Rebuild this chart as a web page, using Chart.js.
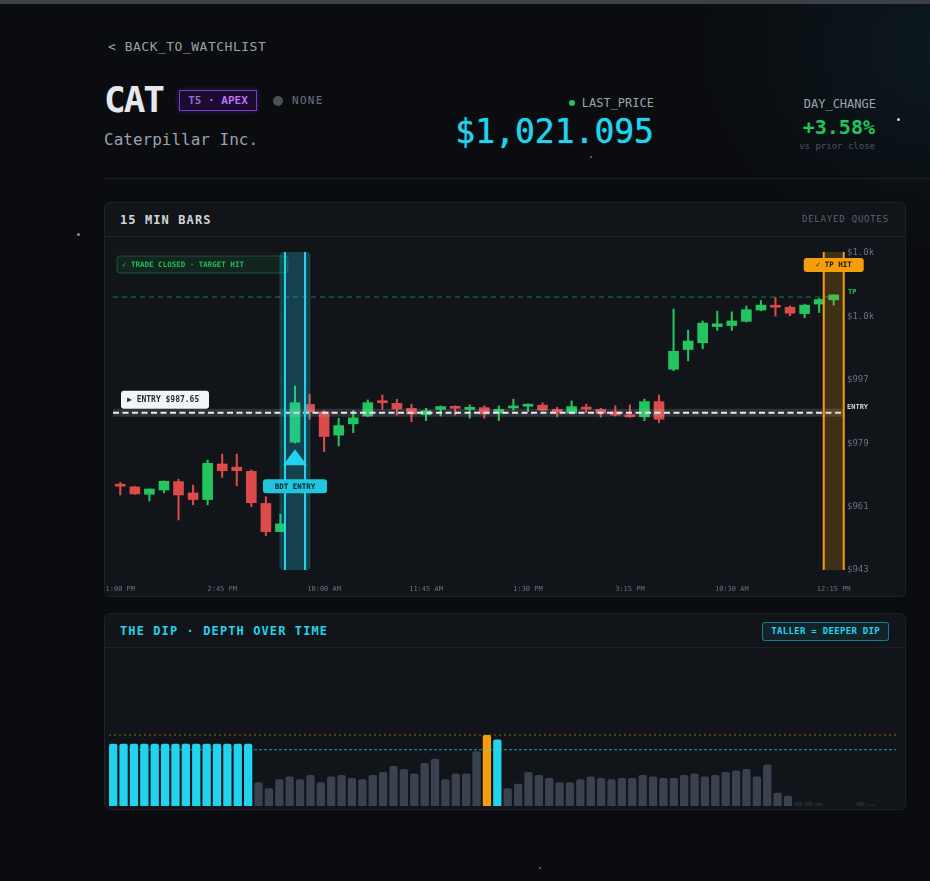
<!DOCTYPE html>
<html>
<head>
<meta charset="utf-8">
<script src="https://cdn.jsdelivr.net/npm/chart.js@4.4.1/dist/chart.umd.min.js"></script>
<style>
  html, body { margin: 0; padding: 0; }
  body {
    width: 930px; height: 881px; position: relative; overflow: hidden;
    background: radial-gradient(ellipse 240px 200px at 940px 50px, rgba(20, 90, 100, 0.16), rgba(0,0,0,0)), #0a0c10;
    font-family: "DejaVu Sans Mono", monospace;
    color: #9ca3af;
  }
  .topbar { position: absolute; left: 0; top: 0; width: 930px; height: 4px; background: #3d4046; }
  .abs { position: absolute; white-space: nowrap; }
  .back { left: 108px; top: 39px; font-size: 13px; line-height: 16px; letter-spacing: 0.5px; color: #9aa1ab; }
  .ticker { left: 104px; top: 82px; font-size: 36px; line-height: 36px; font-weight: bold; letter-spacing: -2px; color: #e6e8eb; }
  .tier {
    left: 179px; top: 90px; width: 78px; height: 21px; box-sizing: border-box;
    border: 1px solid #7c3ad0; background: #1c0b30; box-shadow: 0 0 6px rgba(124, 58, 208, 0.35);
    font-size: 11px; line-height: 19px; text-align: center; color: #b974f5; font-weight: bold;
  }
  .tier .t { color: #8e70c8; }
  .ndot { left: 273px; top: 96px; width: 10px; height: 10px; border-radius: 50%; background: #4b5058; }
  .none { left: 292px; top: 93px; font-size: 11px; line-height: 16px; letter-spacing: 1.3px; color: #6b7280; }
  .name { left: 104px; top: 131px; font-size: 16px; line-height: 18px; color: #9aa1ab; }
  .lp { right: 276px; top: 95px; font-size: 12px; line-height: 16px; color: #9ca3af; }
  .lp i { display: inline-block; width: 6px; height: 6px; border-radius: 50%; background: #22c55e; margin-right: 7px; vertical-align: 1px; }
  .price { right: 276px; top: 115px; font-size: 33px; line-height: 34px; color: #22d3ee; text-shadow: 0 0 1px #22d3ee; }
  .dc { right: 54px; top: 96px; font-size: 12px; line-height: 16px; color: #9ca3af; }
  .chg { right: 55px; top: 116px; font-size: 20px; line-height: 22px; font-weight: bold; color: #22c55e; }
  .vs { right: 55px; top: 140px; font-size: 9px; line-height: 12px; color: #4b5563; }
  .sep { left: 104px; top: 178px; width: 826px; height: 1px; background: #1b1f26; }
  .dot { position: absolute; border-radius: 50%; }

  .card {
    position: absolute; left: 104px; width: 802px; box-sizing: border-box;
    border: 1px solid #1d2229; border-radius: 6px; background: #111418; overflow: hidden;
  }
  .card .head { position: absolute; left: 0; top: 0; width: 800px; height: 33px; border-bottom: 1px solid #1d2229; }
  .title { position: absolute; left: 15px; top: 9px; font-size: 12px; line-height: 16px; font-weight: bold; letter-spacing: 1.1px; color: #d1d5db; }
  .note { position: absolute; right: 16px; top: 10px; font-size: 9px; line-height: 12px; letter-spacing: 0.8px; color: #5b6370; }
  .pill {
    position: absolute; right: 16px; top: 8px; height: 19px; box-sizing: border-box; padding: 0 8px;
    border: 1px solid rgba(34, 211, 238, 0.5); border-radius: 3px; background: rgba(34, 211, 238, 0.08);
    font-size: 9px; line-height: 17px; font-weight: bold; letter-spacing: 0.3px; color: #22d3ee;
  }
  canvas { position: absolute; left: 0; }
</style>
</head>
<body>
<div class="topbar"></div>
<div class="abs back">&lt; BACK_TO_WATCHLIST</div>
<div class="abs ticker">CAT</div>
<div class="abs tier"><span class="t">T5</span> · APEX</div>
<div class="abs ndot"></div>
<div class="abs none">NONE</div>
<div class="abs name">Caterpillar Inc.</div>
<div class="abs lp"><i></i>LAST_PRICE</div>
<div class="abs price">$1,021.095</div>
<div class="abs dc">DAY_CHANGE</div>
<div class="abs chg">+3.58%</div>
<div class="abs vs">vs prior close</div>
<div class="abs sep"></div>
<div class="dot" style="left:897px;top:118px;width:3px;height:3px;background:#cfd3d8"></div>
<div class="dot" style="left:77px;top:233px;width:3px;height:3px;background:#8a8f96"></div>
<div class="dot" style="left:590px;top:156px;width:2px;height:2px;background:#6b7280"></div>
<div class="dot" style="left:539px;top:867px;width:2px;height:2px;background:#6b7280"></div>

<div class="card" style="top:202px;height:395px">
  <div class="head">
    <div class="title">15 MIN BARS</div>
    <div class="note">DELAYED QUOTES</div>
  </div>
  <canvas id="candles" width="800" height="359" style="top:34px"></canvas>
</div>

<div class="card" style="top:613px;height:197px">
  <div class="head">
    <div class="title" style="color:#22d3ee">THE DIP · DEPTH OVER TIME</div>
    <div class="pill">TALLER = DEEPER DIP</div>
  </div>
  <canvas id="dip" width="800" height="159" style="top:36px"></canvas>
</div>

<script>
// 15 minute bars, two and a half sessions
const times = [
  "1:00 PM", "1:15 PM", "1:30 PM", "1:45 PM", "2:00 PM", "2:15 PM", "2:30 PM", "2:45 PM",
  "3:00 PM", "3:15 PM", "3:30 PM", "3:45 PM",
  "9:30 AM", "9:45 AM", "10:00 AM", "10:15 AM", "10:30 AM", "10:45 AM", "11:00 AM", "11:15 AM",
  "11:30 AM", "11:45 AM", "12:00 PM", "12:15 PM", "12:30 PM", "12:45 PM", "1:00 PM", "1:15 PM",
  "1:30 PM", "1:45 PM", "2:00 PM", "2:15 PM", "2:30 PM", "2:45 PM", "3:00 PM", "3:15 PM",
  "3:30 PM", "3:45 PM",
  "9:30 AM", "9:45 AM", "10:00 AM", "10:15 AM", "10:30 AM", "10:45 AM", "11:00 AM", "11:15 AM",
  "11:30 AM", "11:45 AM", "12:00 PM", "12:15 PM"
];
const opens = [
  967.0, 966.6, 964.5, 965.7, 968.1, 964.9, 963.0, 973.1, 972.2, 971.0,
  961.9, 953.9, 979.3, 990.0, 987.9, 981.3, 984.5, 986.7, 990.7, 990.3,
  988.9, 987.1, 988.6, 989.2, 988.6, 989.1, 987.5, 989.0, 989.5, 989.8,
  988.6, 987.5, 989.0, 988.6, 987.9, 987.0, 986.5, 990.8, 1000.0, 1005.6,
  1007.5, 1012.1, 1012.4, 1013.6, 1016.8, 1018.0, 1017.6, 1015.8, 1018.5, 1019.7
];
const highs = [
  967.9, 966.7, 966.0, 968.3, 968.8, 967.1, 974.2, 975.9, 975.9, 971.4,
  963.8, 958.9, 995.2, 992.9, 988.2, 986.1, 988.3, 991.3, 992.7, 991.5,
  990.1, 988.9, 989.6, 989.6, 989.9, 989.6, 989.6, 991.5, 990.2, 990.5,
  989.2, 991.0, 990.1, 988.9, 989.6, 989.9, 991.5, 992.7, 1017.1, 1011.1,
  1013.7, 1016.5, 1016.3, 1018.0, 1019.5, 1020.4, 1018.0, 1018.5, 1020.1, 1021.1
];
const lows = [
  964.3, 964.5, 962.6, 964.9, 957.2, 961.5, 961.5, 969.3, 966.9, 961.0,
  952.7, 953.9, 979.0, 985.8, 976.6, 978.2, 982.0, 986.5, 988.6, 987.0,
  985.1, 985.4, 986.7, 987.0, 986.1, 986.1, 985.4, 988.4, 988.0, 988.2,
  986.5, 987.3, 987.7, 986.4, 986.7, 986.3, 985.4, 984.8, 999.6, 1002.4,
  1005.8, 1011.0, 1011.0, 1013.4, 1016.6, 1015.1, 1015.2, 1014.6, 1016.1, 1018.2
];
const closes = [
  966.8, 964.6, 966.0, 968.2, 964.3, 963.0, 973.3, 971.2, 971.2, 962.1,
  953.9, 956.1, 990.5, 987.9, 980.9, 984.0, 986.2, 990.5, 990.5, 988.7,
  987.3, 988.2, 989.4, 988.9, 989.2, 987.3, 988.6, 989.3, 989.8, 988.4,
  987.9, 989.4, 988.7, 987.5, 987.0, 986.5, 990.8, 985.8, 1005.1, 1008.0,
  1013.1, 1012.9, 1013.7, 1016.9, 1018.2, 1017.6, 1015.9, 1018.2, 1019.8, 1021.1
];

// trade
const entryIndex = 12;
const exitIndex = 49;
const entryPrice = 987.65;
const targetPrice = 1020.5;

// price axis
const priceMin = 943;
const priceMax = 1033;
const priceStep = 18;

// dip depth per bar
const dipDepth = [
  0.84, 0.84, 0.84, 0.84, 0.84, 0.84, 0.84, 0.84, 0.84, 0.84, 0.84, 0.84, 0.84, 0.84,
  0.32, 0.24, 0.36, 0.40, 0.36, 0.42, 0.32, 0.40, 0.42, 0.38, 0.36, 0.42, 0.46, 0.54,
  0.50, 0.44, 0.58, 0.64, 0.36, 0.44, 0.44, 0.74, 0.96, 0.90, 0.24, 0.30, 0.46, 0.42,
  0.38, 0.32, 0.32, 0.36, 0.40, 0.38, 0.36, 0.38, 0.38, 0.42, 0.40, 0.38, 0.38, 0.42,
  0.44, 0.40, 0.42, 0.46, 0.48, 0.50, 0.40, 0.56, 0.18, 0.14, 0.06, 0.06, 0.04, 0,
  0, 0, 0.06, 0.02, 0, 0
];
const dipThreshold = 0.76;

const GREEN = "#22c55e";
const RED = "#dc4a4a";
const CYAN = "#22d3ee";
const ORANGE = "#f59e0b";
const MONO = '"DejaVu Sans Mono", monospace';

const rrect = (ctx, x, y, w, h, r) => {
    ctx.beginPath();
    ctx.moveTo(x + r, y);
    ctx.arcTo(x + w, y, x + w, y + h, r);
    ctx.arcTo(x + w, y + h, x, y + h, r);
    ctx.arcTo(x, y + h, x, y, r);
    ctx.arcTo(x, y, x + w, y, r);
    ctx.closePath();
};

const hline = (ctx, x1, x2, y) => {
    ctx.beginPath();
    ctx.moveTo(x1, y);
    ctx.lineTo(x2, y);
    ctx.stroke();
};

const vline = (ctx, x, y1, y2) => {
    ctx.beginPath();
    ctx.moveTo(x, y1);
    ctx.lineTo(x, y2);
    ctx.stroke();
};

const tradeMarks = {
    id: "tradeMarks",
    afterDatasetsDraw(chart) {
        const { ctx, chartArea: a, scales: { x, y } } = chart;
        const ex = x.getPixelForValue(entryIndex);
        const tx = x.getPixelForValue(exitIndex);
        const ey = y.getPixelForValue(entryPrice);
        const ty = y.getPixelForValue(targetPrice);
        const right = a.right + 2;
        ctx.save();

        // target line
        ctx.setLineDash([5, 4]);
        ctx.lineWidth = 1;
        ctx.strokeStyle = "rgba(34,197,94,0.6)";
        hline(ctx, a.left, right, ty);

        // entry line
        ctx.setLineDash([]);
        ctx.fillStyle = "rgba(200,205,215,0.16)";
        ctx.fillRect(a.left, ey - 4, right - a.left, 8);
        ctx.setLineDash([6, 3.5]);
        ctx.lineWidth = 2;
        ctx.strokeStyle = "#e8eaee";
        hline(ctx, a.left, right, ey);
        ctx.setLineDash([]);

        // trade closed tag
        rrect(ctx, a.left + 4, a.top + 3, 171, 17, 3);
        ctx.fillStyle = "rgba(34,197,94,0.10)";
        ctx.fill();
        ctx.lineWidth = 1;
        ctx.strokeStyle = "rgba(34,197,94,0.35)";
        ctx.stroke();
        ctx.font = "bold 7.5px " + MONO;
        ctx.textBaseline = "middle";
        ctx.textAlign = "left";
        ctx.fillStyle = "rgba(34,197,94,0.95)";
        ctx.fillText("✓ TRADE CLOSED · TARGET HIT", a.left + 9, a.top + 12);

        // entry band
        rrect(ctx, ex - 15.5, a.top - 1, 31, a.bottom - a.top + 1, 4);
        ctx.fillStyle = "rgba(34,211,238,0.24)";
        ctx.fill();
        ctx.lineWidth = 2;
        ctx.strokeStyle = CYAN;
        vline(ctx, ex - 10, a.top - 1, a.bottom);
        vline(ctx, ex + 10, a.top - 1, a.bottom);

        // exit band
        ctx.fillStyle = "rgba(245,158,11,0.2)";
        ctx.fillRect(tx - 10.5, a.top - 1, 21, a.bottom - a.top + 1);
        ctx.strokeStyle = ORANGE;
        vline(ctx, tx - 10, a.top - 1, a.bottom);
        vline(ctx, tx + 10, a.top - 1, a.bottom);

        // entry arrow + tag
        const ly = y.getPixelForValue(lows[entryIndex]) + 6;
        ctx.beginPath();
        ctx.moveTo(ex, ly);
        ctx.lineTo(ex + 12, ly + 16);
        ctx.lineTo(ex - 12, ly + 16);
        ctx.closePath();
        ctx.fillStyle = CYAN;
        ctx.fill();
        rrect(ctx, ex - 32, ly + 30, 64, 14, 3);
        ctx.fillStyle = "#20c6de";
        ctx.fill();
        ctx.font = "bold 7.5px " + MONO;
        ctx.textAlign = "center";
        ctx.fillStyle = "#0b1d24";
        ctx.fillText("BDT ENTRY", ex, ly + 37.5);

        // target hit tag
        rrect(ctx, tx - 30, a.top + 5, 60, 14, 3);
        ctx.fillStyle = ORANGE;
        ctx.fill();
        ctx.fillStyle = "#1c1204";
        ctx.fillText("✓ TP HIT", tx, a.top + 12.5);

        // entry price tag
        rrect(ctx, a.left + 8, ey - 22, 88, 18, 3);
        ctx.fillStyle = "#f3f4f6";
        ctx.fill();
        ctx.font = "bold 8px " + MONO;
        ctx.textAlign = "left";
        ctx.fillStyle = "#1f2937";
        ctx.fillText("▶ ENTRY $" + entryPrice.toFixed(2), a.left + 14, ey - 12.5);

        // axis side labels
        ctx.font = "bold 7px " + MONO;
        ctx.fillStyle = GREEN;
        ctx.fillText("TP", a.right + 7, ty - 5);
        ctx.fillStyle = "#d1d5db";
        ctx.fillText("ENTRY", a.right + 6, ey - 6);
        ctx.restore();
    },
};

const candleColor = (i) => (closes[i] >= opens[i] ? GREEN : RED);

new Chart(document.getElementById("candles"), {
    type: "bar",
    data: {
        labels: times,
        datasets: [
            {
                label: "body",
                data: opens.map((o, i) => [o, closes[i]]),
                backgroundColor: opens.map((o, i) => candleColor(i)),
                barThickness: 10,
                minBarLength: 2,
                grouped: false,
            },
            {
                label: "wick",
                data: lows.map((l, i) => [l, highs[i]]),
                backgroundColor: lows.map((l, i) => candleColor(i)),
                barThickness: 1.4,
                grouped: false,
            },
        ],
    },
    options: {
        responsive: false,
        animation: false,
        devicePixelRatio: 1,
        layout: { padding: { left: 8, top: 16, right: 0, bottom: 0 } },
        plugins: { legend: { display: false }, tooltip: { enabled: false } },
        scales: {
            x: {
                grid: { display: true, drawOnChartArea: false, drawTicks: true, tickLength: 15, tickColor: "rgba(0,0,0,0)" },
                border: { display: false },
                afterFit: (s) => { s.height = 26; },
                ticks: {
                    autoSkip: false,
                    maxRotation: 0,
                    padding: 0,
                    color: "#6b7280",
                    font: { family: MONO, size: 7 },
                    callback: (v, i) => (i % 7 === 0 ? times[i] : ""),
                },
            },
            y: {
                position: "right",
                min: priceMin,
                max: priceMax,
                grid: { color: "rgba(255,255,255,0.045)", drawTicks: false },
                border: { display: false, dash: [4, 4] },
                afterFit: (s) => { s.width = 64; },
                ticks: {
                    stepSize: priceStep,
                    padding: 6,
                    color: "#6b7280",
                    font: { family: MONO, size: 9 },
                    callback: (v) => (v >= 1000 ? "$" + (v / 1000).toFixed(1) + "k" : "$" + Math.round(v)),
                },
            },
        },
    },
    plugins: [tradeMarks],
});

const deepest = dipDepth.indexOf(Math.max(...dipDepth));
const dipColor = (v, i) => {
    if (i === deepest) return ORANGE;
    if (v >= dipThreshold) return CYAN;
    if (v < 0.08) return "#1f2630";
    return "#3a4250";
};

const dipLines = {
    id: "dipLines",
    afterDatasetsDraw(chart) {
        const { ctx, chartArea: a, scales: { y } } = chart;
        ctx.save();
        ctx.lineWidth = 1.5;
        ctx.setLineDash([2, 3]);
        ctx.strokeStyle = "rgba(245,158,11,0.4)";
        hline(ctx, a.left + 1, a.right - 1, y.getPixelForValue(dipDepth[deepest]));
        ctx.lineWidth = 1;
        ctx.setLineDash([3, 2]);
        ctx.strokeStyle = "rgba(34,211,238,0.75)";
        hline(ctx, a.left + 1, a.right - 1, y.getPixelForValue(dipThreshold));
        ctx.restore();
    },
};

new Chart(document.getElementById("dip"), {
    type: "bar",
    data: {
        labels: dipDepth.map((v, i) => i + 1),
        datasets: [
            {
                data: dipDepth,
                backgroundColor: dipDepth.map(dipColor),
                barPercentage: 0.8,
                categoryPercentage: 1,
                borderRadius: { topLeft: 2, topRight: 2 },
                borderSkipped: "bottom",
            },
        ],
    },
    options: {
        responsive: false,
        animation: false,
        devicePixelRatio: 1,
        layout: { padding: { left: 3, top: 8, right: 8, bottom: 3 } },
        plugins: { legend: { display: false }, tooltip: { enabled: false } },
        scales: {
            x: { display: false },
            y: { display: false, min: 0, max: 2 },
        },
    },
    plugins: [dipLines],
});
</script>
</body>
</html>
